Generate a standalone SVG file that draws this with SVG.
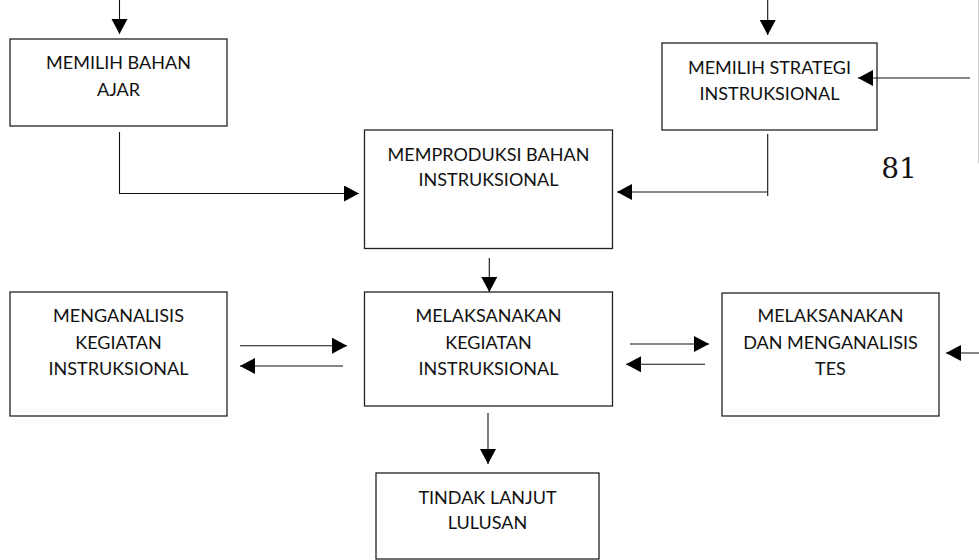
<svg xmlns="http://www.w3.org/2000/svg" width="979" height="560" viewBox="0 0 979 560">
<defs>
<marker id="ah" markerUnits="userSpaceOnUse" markerWidth="16" markerHeight="17" refX="15" refY="8" orient="auto">
<path d="M0,0 L15,8 L0,16 z" fill="#000"/>
</marker>
</defs>
<style>
.box{fill:#fff;stroke:#222;stroke-width:1.3}
.t{font-family:Lato,"Liberation Sans",sans-serif;font-size:18px;fill:#111;text-anchor:middle}
.c{fill:none;stroke:#111;stroke-width:1.1}
.ca{fill:none;stroke:#111;stroke-width:1.1;marker-end:url(#ah)}
</style>
<rect width="979" height="560" fill="#fff"/>
<line x1="978.5" y1="0" x2="978.5" y2="163" stroke="#ccc" stroke-width="1"/>
<text x="899" y="178" font-family="'DejaVu Serif','Liberation Serif',serif" font-size="28" fill="#111" text-anchor="middle">81</text>

<g id="n1"><rect class="box" x="10" y="39" width="217" height="87"/>
<text class="t" x="118.5" y="69">MEMILIH BAHAN</text><text class="t" x="118.5" y="96">AJAR</text></g>
<g id="n2"><rect class="box" x="364.5" y="130" width="248" height="118.5"/>
<text class="t" x="488.5" y="161">MEMPRODUKSI BAHAN</text><text class="t" x="488.5" y="186">INSTRUKSIONAL</text></g>
<g id="n3"><rect class="box" x="662" y="43" width="215" height="87"/>
<text class="t" x="769.5" y="74">MEMILIH STRATEGI</text><text class="t" x="769.5" y="100">INSTRUKSIONAL</text></g>
<g id="n4"><rect class="box" x="364.5" y="292" width="248" height="114"/>
<text class="t" x="488.5" y="322">MELAKSANAKAN</text><text class="t" x="488.5" y="349">KEGIATAN</text><text class="t" x="488.5" y="375">INSTRUKSIONAL</text></g>
<g id="n5"><rect class="box" x="10" y="292" width="217" height="124"/>
<text class="t" x="118.5" y="322">MENGANALISIS</text><text class="t" x="118.5" y="349">KEGIATAN</text><text class="t" x="118.5" y="375">INSTRUKSIONAL</text></g>
<g id="n6"><rect class="box" x="722" y="293" width="217" height="123"/>
<text class="t" x="830.5" y="322">MELAKSANAKAN</text><text class="t" x="830.5" y="349">DAN MENGANALISIS</text><text class="t" x="830.5" y="375">TES</text></g>
<g id="n7"><rect class="box" x="376" y="473" width="223" height="86"/>
<text class="t" x="487.5" y="504">TINDAK LANJUT</text><text class="t" x="487.5" y="529">LULUSAN</text></g>

<g id="connectors">
<path class="ca" d="M119.5,0 V34"/>
<path class="ca" d="M767.7,0 V35"/>
<path class="ca" d="M119.5,132 V193.5 H359"/>
<path class="c" d="M767.7,134 V196"/>
<path class="ca" d="M767.7,192 H617"/>
<path class="ca" d="M970,78 H858"/>
<path class="ca" d="M489.3,258 V292"/>
<path class="ca" d="M240,345.7 H347"/>
<path class="ca" d="M343,366 H240"/>
<path class="ca" d="M630,344 H709"/>
<path class="ca" d="M705,364.3 H626"/>
<path class="ca" d="M979,353 H946"/>
<path class="ca" d="M488,413 V464"/>
</g>
</svg>
